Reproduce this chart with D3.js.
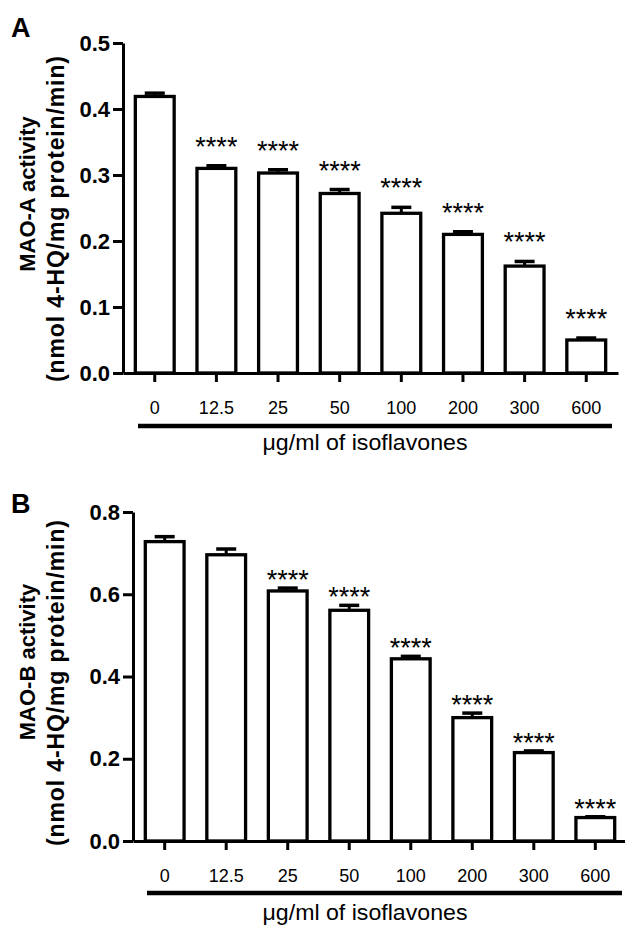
<!DOCTYPE html>
<html>
<head>
<meta charset="utf-8">
<script src="https://cdn.jsdelivr.net/npm/d3@7"></script>
<style>
  html, body { margin: 0; padding: 0; background: #fff; }
  svg { display: block; font-family: "Liberation Sans", Arial, sans-serif; }
</style>
</head>
<body>
<svg id="chart" width="625" height="929"></svg>
<script>
// ---- data ----
const doses = ["0", "12.5", "25", "50", "100", "200", "300", "600"];
const maoA = [0.419, 0.310, 0.303, 0.272, 0.242, 0.210, 0.162, 0.050];
const maoASem = [0.005, 0.004, 0.005, 0.006, 0.009, 0.004, 0.007, 0.003];
const maoASig = ["", "****", "****", "****", "****", "****", "****", "****"];
const maoB = [0.728, 0.696, 0.608, 0.561, 0.443, 0.300, 0.215, 0.057];
const maoBSem = [0.012, 0.014, 0.007, 0.012, 0.006, 0.011, 0.004, 0.002];
const maoBSig = ["", "", "****", "****", "****", "****", "****", "****"];
const yTicksA = [0.0, 0.1, 0.2, 0.3, 0.4, 0.5];
const yTicksB = [0.0, 0.2, 0.4, 0.6, 0.8];
const xTitle = "\u03bcg/ml of isoflavones";

const svg = d3.select("#chart");

function panel(cfg) {
  const g = svg.append("g");
  const x = d3.scaleBand().domain(doses).range([cfg.x0, cfg.x1])
    .paddingInner(0.37).paddingOuter(0.2);
  const y = d3.scaleLinear().domain([0, cfg.ymax]).range([cfg.yBottom, cfg.yTop]);

  const data = doses.map((d, i) => ({ d, v: cfg.values[i], s: cfg.sem[i], sig: cfg.sig[i] }));
  // error bars
  const eb = g.append("g");
  data.forEach(p => {
    const cx = x(p.d) + x.bandwidth() / 2;
    eb.append("line").attr("x1", cx).attr("x2", cx)
      .attr("y1", y(p.v)).attr("y2", y(p.v + p.s))
      .attr("stroke", "#000").attr("stroke-width", 3);
    eb.append("line").attr("x1", cx - 10).attr("x2", cx + 10)
      .attr("y1", y(p.v + p.s)).attr("y2", y(p.v + p.s))
      .attr("stroke", "#000").attr("stroke-width", 3.5);
  });
  // bars
  g.append("g").selectAll("rect").data(data).join("rect")
    .attr("x", p => x(p.d))
    .attr("width", x.bandwidth())
    .attr("y", p => y(p.v))
    .attr("height", p => y(0) - y(p.v))
    .attr("fill", "#fff").attr("stroke", "#000").attr("stroke-width", 3.3);

  // significance stars
  g.append("g").selectAll("text").data(data.filter(p => p.sig)).join("text")
    .attr("x", p => x(p.d) + x.bandwidth() / 2)
    .attr("y", p => y(p.v + p.s) - cfg.starGap + 15)
    .attr("text-anchor", "middle")
    .attr("font-size", 27)
    .text(p => p.sig);

  // y axis
  const ya = g.append("g").attr("transform", `translate(${cfg.x0},0)`)
    .call(d3.axisLeft(y).tickValues(cfg.yTicks).tickFormat(d3.format(".1f"))
      .tickSize(10).tickSizeOuter(0).tickPadding(3));
  ya.select(".domain").attr("stroke-width", 3);
  ya.selectAll(".tick line").attr("stroke-width", 3);
  ya.selectAll(".tick text").attr("font-size", 22).attr("font-weight", "bold")
    .attr("font-family", "Liberation Sans, Arial, sans-serif").attr("fill", "#000");

  // x axis
  const xa = g.append("g").attr("transform", `translate(0,${cfg.yBottom})`)
    .call(d3.axisBottom(x).tickSize(9).tickSizeOuter(0).tickPadding(19));
  xa.select(".domain").attr("stroke-width", 3);
  xa.selectAll(".tick line").attr("stroke-width", 3);
  xa.selectAll(".tick text").attr("font-size", 18)
    .attr("font-family", "Liberation Sans, Arial, sans-serif").attr("fill", "#000");

  // bracket line
  g.append("line").attr("x1", cfg.lineX0).attr("x2", cfg.lineX1)
    .attr("y1", cfg.lineY).attr("y2", cfg.lineY)
    .attr("stroke", "#000").attr("stroke-width", 4.5);

  // x title
  g.append("text").attr("x", 365).attr("y", cfg.titleY)
    .attr("text-anchor", "middle").attr("font-size", 22)
    .attr("textLength", 205).attr("lengthAdjust", "spacingAndGlyphs")
    .text(xTitle);

  // y title
  g.append("text")
    .attr("transform", `translate(35,${cfg.l1c}) rotate(-90)`)
    .attr("text-anchor", "middle").attr("font-size", 22).attr("font-weight", "bold")
    .text(cfg.yLabel1);
  g.append("text")
    .attr("transform", `translate(64,${cfg.l2c}) rotate(-90)`)
    .attr("text-anchor", "middle").attr("font-size", 23).attr("font-weight", "bold")
    .attr("textLength", 326).attr("lengthAdjust", "spacing")
    .text(cfg.yLabel2);

  // panel letter
  g.append("text").attr("x", 11).attr("y", cfg.letterY)
    .attr("font-size", 27).attr("font-weight", "bold").text(cfg.letter);
}

panel({
  letter: "A", letterY: 37,
  values: maoA, sem: maoASem, sig: maoASig, yTicks: yTicksA, ymax: 0.5,
  x0: 123, x1: 618, yTop: 43, yBottom: 373, starGap: 25,
  lineX0: 138, lineX1: 612, lineY: 426, titleY: 450,
  yLabel1: "MAO-A activity", yLabel2: "(nmol 4-HQ/mg protein/min)", l1c: 194, l2c: 219
});
panel({
  letter: "B", letterY: 513,
  values: maoB, sem: maoBSem, sig: maoBSig, yTicks: yTicksB, ymax: 0.8,
  x0: 133, x1: 627, yTop: 512, yBottom: 841, starGap: 14,
  lineX0: 147, lineX1: 622, lineY: 893, titleY: 920,
  yLabel1: "MAO-B activity", yLabel2: "(nmol 4-HQ/mg protein/min)", l1c: 662, l2c: 683
});
</script>
</body>
</html>
